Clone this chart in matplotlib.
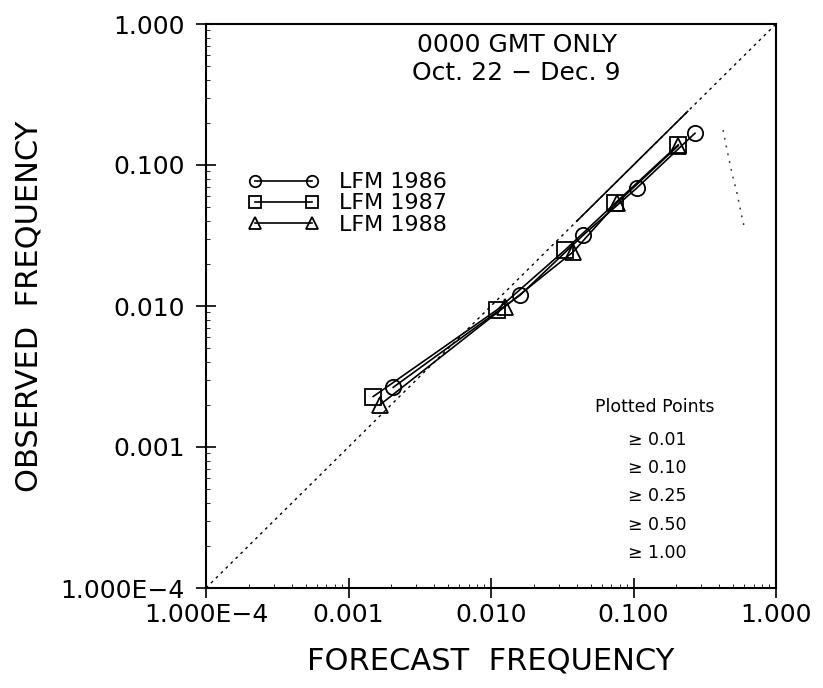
import matplotlib
matplotlib.use("Agg")
import matplotlib.pyplot as plt

# ---- data ----
series_names = ["LFM 1986", "LFM 1987", "LFM 1988"]
fc_1986 = [0.00206, 0.0161, 0.0445, 0.105, 0.270]
ob_1986 = [0.00265, 0.0120, 0.0319, 0.0684, 0.168]
fc_1987 = [0.00149, 0.0110, 0.0330, 0.0741, 0.206]
ob_1987 = [0.00228, 0.00938, 0.0249, 0.0535, 0.139]
fc_1988 = [0.00166, 0.0125, 0.0379, 0.0762, 0.206]
ob_1988 = [0.00199, 0.00989, 0.0243, 0.0535, 0.137]
diag_full = [1e-4, 1.0]
diag_solid = [0.040, 0.24]
pencil_x = [0.425, 0.453, 0.491, 0.532, 0.577, 0.605]
pencil_y = [0.177, 0.128, 0.0877, 0.0633, 0.0428, 0.0346]
tick_vals = [1e-4, 1e-3, 1e-2, 1e-1, 1.0]
tick_labels = ["1.000E\u22124", "0.001", "0.010", "0.100", "1.000"]
title_lines = ["0000 GMT ONLY", "Oct. 22 \u2212 Dec. 9"]
pp_title = "Plotted Points"
pp_items = ["\u2265 0.01", "\u2265 0.10", "\u2265 0.25", "\u2265 0.50", "\u2265 1.00"]

plt.rcParams['font.family'] = ['DejaVu Sans']

fig = plt.figure(figsize=(8.23, 6.88), dpi=100)
ax = fig.add_axes([206/823, 1-588/688, 570/823, 564/688])
ax.set_xscale('log')
ax.set_yscale('log')
ax.set_xlim(1e-4, 1.0)
ax.set_ylim(1e-4, 1.0)

ax.plot(diag_full, diag_full, color='black', ls=(0, (2, 3)), lw=1.0)
ax.plot(diag_solid, diag_solid, color='black', lw=1.2)
ax.plot(pencil_x, pencil_y, color='#333333', ls=(0, (1.2, 4)), lw=1.1)

ms = 11
ax.plot(fc_1986, ob_1986, color='black', lw=1.2, marker='o', ms=ms, mfc='none',
        mec='black', mew=1.3, label=series_names[0])
ax.plot(fc_1987, ob_1987, color='black', lw=1.2, marker='s', ms=ms, mfc='none',
        mec='black', mew=1.3, label=series_names[1])
ax.plot(fc_1988, ob_1988, color='black', lw=1.2, marker='^', ms=ms, mfc='none',
        mec='black', mew=1.3, label=series_names[2])

leg = ax.legend(loc='upper left', bbox_to_anchor=(0.074, 0.737), frameon=False,
                numpoints=2, handlelength=3.17, handletextpad=0.9,
                labelspacing=0.05, borderaxespad=0, borderpad=0,
                prop={'size': 16}, markerscale=0.75)

ax.set_xticks(tick_vals)
ax.set_xticklabels(tick_labels)
ax.set_yticks(tick_vals)
ax.set_yticklabels(tick_labels)
ax.tick_params(which='major', direction='inout', length=15, width=1.2,
               labelsize=18, pad=3)
ax.tick_params(which='minor', direction='in', length=3, width=0.6)
ax.tick_params(axis='y', which='major', pad=8)
for sp in ax.spines.values():
    sp.set_linewidth(1.5)

ax.set_xlabel("FORECAST  FREQUENCY", fontsize=22, labelpad=14)
ax.set_ylabel("OBSERVED  FREQUENCY", fontsize=22, labelpad=12)

ax.text(0.545, 0.962, title_lines[0], transform=ax.transAxes, ha='center',
        va='center', fontsize=18)
ax.text(0.545, 0.914, title_lines[1], transform=ax.transAxes, ha='center',
        va='center', fontsize=18)

ax.text(0.788, 0.321, pp_title, transform=ax.transAxes, ha='center',
        va='center', fontsize=12.5)
for i, s in enumerate(pp_items):
    ax.text(0.74, 0.263 - i * 0.0503, s, transform=ax.transAxes, ha='left',
            va='center', fontsize=12.5)

fig.savefig("out.png", dpi=100)
